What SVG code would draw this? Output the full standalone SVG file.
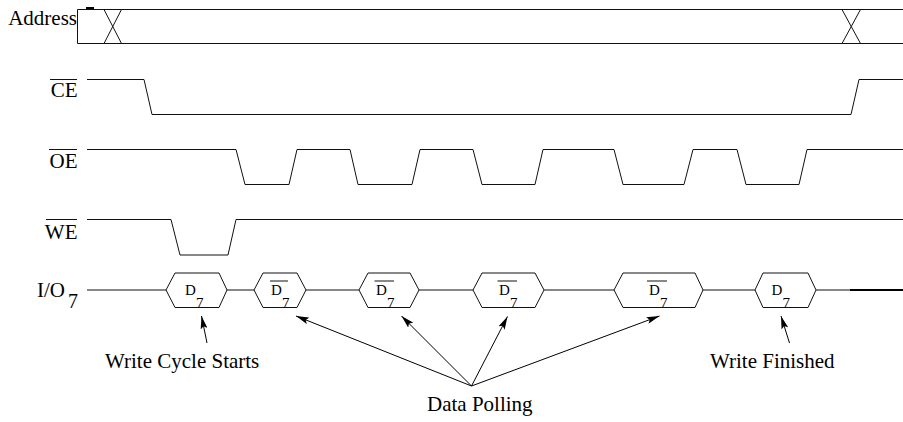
<svg xmlns="http://www.w3.org/2000/svg" width="903" height="422" viewBox="0 0 903 422">
  <style>
    .wave { fill: none; stroke: #111; stroke-width: 1; }
    .bar { stroke: #111; stroke-width: 1; }
    .lbl { font-family: "Liberation Serif", "Times New Roman", serif; font-size: 21px; fill: #000; }
    .sub { font-family: "Liberation Serif", "Times New Roman", serif; font-size: 20px; fill: #000; }
    .hx { font-family: "Liberation Serif", "Times New Roman", serif; font-size: 15px; fill: #000; }
    .hex { fill: #fff; stroke: #111; stroke-width: 1; }
    .arrow { fill: none; stroke: #000; stroke-width: 1; marker-end: url(#head); }
  </style>
  <defs>
    <marker id="head" viewBox="0 0 13 7" refX="13" refY="3.5" markerWidth="13" markerHeight="7" markerUnits="userSpaceOnUse" orient="auto">
      <path d="M0,0 L13,3.5 L0,7 L2.5,3.5 Z" fill="#000"/>
    </marker>
  </defs>

  <rect width="903" height="422" fill="#fff"/>

  <!-- Address bus -->
  <g id="address">
    <text class="lbl" x="77" y="25" text-anchor="end">Address</text>
    <path class="wave" d="M903,9.5 H77.5 V43.5 H903"/>
    <line x1="86" y1="8" x2="94" y2="8" stroke="#000" stroke-width="2"/>
    <path class="wave" d="M104,9.5 L121.5,43.5 M121.5,9.5 L104,43.5"/>
    <path class="wave" d="M842,9.5 L860.5,43.5 M860.5,9.5 L842,43.5"/>
  </g>

  <!-- Chip enable -->
  <g id="ce">
    <text class="lbl" x="77.5" y="96.5" text-anchor="end">CE</text>
    <line class="bar" x1="50" y1="79.5" x2="77" y2="79.5"/>
    <path class="wave" d="M87,79.5 H144 L152,114.5 H851 L859,79.5 H903"/>
  </g>

  <!-- Output enable -->
  <g id="oe">
    <text class="lbl" x="77.5" y="167.5" text-anchor="end">OE</text>
    <line class="bar" x1="49" y1="149.5" x2="77" y2="149.5"/>
    <path class="wave" d="M87,149.5 H236 L245,184.5 H289 L297,149.5 H350 L358,184.5 H412 L420,149.5 H473 L482,184.5 H535 L543,149.5 H614 L623,184.5 H684 L693,149.5 H737 L746,184.5 H799 L807,149.5 H903"/>
  </g>

  <!-- Write enable -->
  <g id="we">
    <text class="lbl" x="77.5" y="238.5" text-anchor="end">WE</text>
    <line class="bar" x1="46" y1="219.5" x2="77" y2="219.5"/>
    <path class="wave" d="M87,219.5 H171 L180,255 H228 L236,219.5 H903"/>
  </g>

  <!-- Data line I/O7 -->
  <g id="io7">
    <text class="lbl" x="37" y="297">I/O</text>
    <text class="sub" x="68" y="308">7</text>
    <path class="wave" d="M87,290 H166 M227,290 H254 M306,290 H359 M419,290 H473 M544,290 H614 M703,290 H755 M816,290 H850"/>
    <line x1="850" y1="290" x2="903" y2="290" stroke="#000" stroke-width="2"/>
  </g>

  <g id="d7-write">
    <polygon class="hex" points="166,290 175,273 219,273 227,290 219,307.5 175,307.5"/>
    <text class="hx" x="185" y="294.5">D</text>
    <text class="hx" x="196" y="308">7</text>
  </g>
  <g id="d7-poll-1">
    <polygon class="hex" points="254,290 263,273 297,273 306,290 297,307.5 263,307.5"/>
    <text class="hx" x="271" y="294.5">D</text>
    <text class="hx" x="282" y="308">7</text>
    <line class="bar" x1="270" y1="281" x2="288" y2="281"/>
  </g>
  <g id="d7-poll-2">
    <polygon class="hex" points="359,290 368,273 410,273 419,290 410,307.5 368,307.5"/>
    <text class="hx" x="376" y="294.5">D</text>
    <text class="hx" x="387" y="308">7</text>
    <line class="bar" x1="374.5" y1="281" x2="394" y2="281"/>
  </g>
  <g id="d7-poll-3">
    <polygon class="hex" points="473,290 482,273 535,273 544,290 535,307.5 482,307.5"/>
    <text class="hx" x="499" y="294.5">D</text>
    <text class="hx" x="510" y="308">7</text>
    <line class="bar" x1="497.5" y1="281" x2="517" y2="281"/>
  </g>
  <g id="d7-poll-4">
    <polygon class="hex" points="614,290 623,273 695,273 703,290 695,307.5 623,307.5"/>
    <text class="hx" x="649" y="294.5">D</text>
    <text class="hx" x="660" y="308">7</text>
    <line class="bar" x1="647" y1="281" x2="667" y2="281"/>
  </g>
  <g id="d7-done">
    <polygon class="hex" points="755,290 763,273 808,273 816,290 808,307.5 763,307.5"/>
    <text class="hx" x="771.5" y="294.5">D</text>
    <text class="hx" x="782.5" y="308">7</text>
  </g>

  <!-- Annotations -->
  <g id="note-start">
    <text class="lbl" x="105" y="368">Write Cycle Starts</text>
  </g>
  <g id="note-finished">
    <text class="lbl" x="710" y="368">Write Finished</text>
  </g>
  <g id="note-polling">
    <text class="lbl" x="427" y="411">Data Polling</text>
  </g>

  <g id="connectors">
    <line class="arrow" x1="207" y1="343" x2="201.5" y2="316"/>
    <line class="arrow" x1="471.5" y1="386" x2="296" y2="316"/>
    <line class="arrow" x1="471.5" y1="386" x2="401.5" y2="316"/>
    <line class="arrow" x1="471.5" y1="386" x2="507.5" y2="316.5"/>
    <line class="arrow" x1="471.5" y1="386" x2="659.5" y2="316"/>
    <line class="arrow" x1="789.5" y1="343" x2="781" y2="316"/>
  </g>
</svg>
